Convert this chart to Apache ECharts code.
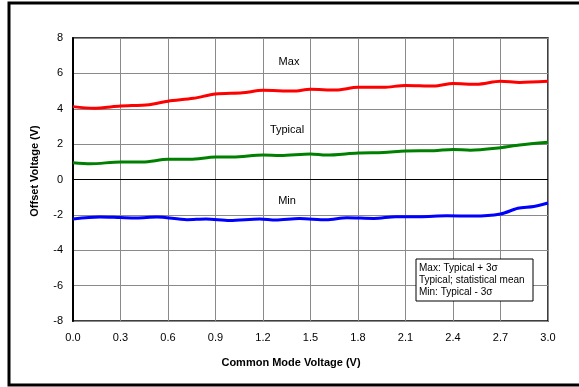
<!DOCTYPE html>
<html>
<head>
<meta charset="utf-8">
<script src="https://cdn.jsdelivr.net/npm/echarts@6/dist/echarts.min.js"></script>
<style>
  html, body { margin: 0; padding: 0; background: #fff; }
  #chart { width: 579px; height: 387px; }
</style>
</head>
<body>
<div id="chart"></div>
<script>
// common mode voltage (V) sample points
var cmvMax = [0, 0.13, 0.3, 0.48, 0.6, 0.76, 0.9, 1.07, 1.2, 1.39, 1.5, 1.66, 1.8, 1.96, 2.1, 2.28, 2.4, 2.55, 2.7, 2.82, 3.0];
var maxValues = [4.12, 4.03, 4.15, 4.23, 4.43, 4.59, 4.83, 4.9, 5.04, 5.0, 5.1, 5.06, 5.21, 5.21, 5.32, 5.28, 5.43, 5.38, 5.55, 5.49, 5.55];

var cmvTyp = [0, 0.11, 0.3, 0.44, 0.6, 0.74, 0.9, 1.01, 1.2, 1.31, 1.5, 1.6, 1.8, 1.96, 2.1, 2.28, 2.4, 2.51, 2.7, 2.82, 3.0];
var typValues = [0.95, 0.89, 0.99, 0.99, 1.14, 1.14, 1.27, 1.27, 1.38, 1.35, 1.44, 1.38, 1.5, 1.53, 1.61, 1.63, 1.7, 1.66, 1.8, 1.95, 2.1];

var cmvMin = [0, 0.17, 0.3, 0.4, 0.53, 0.72, 0.84, 0.99, 1.18, 1.28, 1.43, 1.6, 1.73, 1.9, 2.04, 2.19, 2.36, 2.53, 2.7, 2.81, 2.91, 3.0];
var minValues = [-2.23, -2.12, -2.15, -2.17, -2.12, -2.27, -2.23, -2.32, -2.23, -2.29, -2.21, -2.28, -2.16, -2.2, -2.1, -2.1, -2.05, -2.07, -1.95, -1.63, -1.53, -1.33];

function pairs(xs, ys) {
    var out = [];
    for (var i = 0; i < xs.length; i++) out.push([xs[i], ys[i]]);
    return out;
}

var myChart = echarts.init(document.getElementById('chart'));
var font = '"Liberation Sans", Arial, sans-serif';
var gridLine = { show: true, lineStyle: { color: '#8a8a8a', width: 1, type: 'solid' } };

function curve(name, color, data) {
    return {
        name: name,
        type: 'line',
        smooth: 0.3,
        symbol: 'none',
        lineStyle: { color: color, width: 3 },
        data: data,
        z: 5
    };
}

var option = {
    animation: false,
    grid: { left: 73, top: 38, right: 31, bottom: 66, show: true, borderColor: '#000', borderWidth: 1.5, backgroundColor: 'transparent' },
    xAxis: {
        type: 'value',
        min: 0, max: 3, interval: 0.3,
        axisLine: { show: false },
        axisTick: { show: false },
        axisLabel: { color: '#000', fontFamily: font, fontSize: 11, margin: 11, formatter: function (v) { return v.toFixed(1); } },
        splitLine: gridLine
    },
    yAxis: {
        type: 'value',
        min: -8, max: 8, interval: 2,
        axisLine: { show: true, onZero: false, lineStyle: { color: '#000', width: 2 } },
        axisTick: { show: false },
        axisLabel: { color: '#000', fontFamily: font, fontSize: 11, margin: 10 },
        splitLine: gridLine
    },
    series: [
        curve('Max', '#ff0000', pairs(cmvMax, maxValues)),
        curve('Typical', '#008000', pairs(cmvTyp, typValues)),
        curve('Min', '#0000ff', pairs(cmvMin, minValues)),
        {
            // zero line
            type: 'line',
            symbol: 'none',
            silent: true,
            lineStyle: { color: '#000', width: 1.2 },
            data: [[0, 0], [3, 0]],
            z: 3
        }
    ],
    graphic: [
        { type: 'rect', shape: { x: 9, y: 3, width: 620, height: 382 }, style: { fill: 'none', stroke: '#000', lineWidth: 3 }, silent: true },
        { type: 'text', x: 289, y: 62, style: { text: 'Max', font: '11px ' + font, fill: '#000', textAlign: 'center', textVerticalAlign: 'middle' } },
        { type: 'text', x: 287, y: 130, style: { text: 'Typical', font: '11px ' + font, fill: '#000', textAlign: 'center', textVerticalAlign: 'middle' } },
        { type: 'text', x: 287, y: 201, style: { text: 'Min', font: '11px ' + font, fill: '#000', textAlign: 'center', textVerticalAlign: 'middle' } },
        { type: 'rect', shape: { x: 416, y: 259, width: 117, height: 42 }, style: { fill: '#fff', stroke: '#000', lineWidth: 1 }, z: 10 },
        { type: 'text', x: 419, y: 262, z: 11, style: { text: 'Max: Typical + 3σ\nTypical; statistical mean\nMin: Typical - 3σ', font: '10px ' + font, lineHeight: 12, fill: '#000' } },
        { type: 'text', x: 291, y: 363, style: { text: 'Common Mode Voltage (V)', font: 'bold 11px ' + font, fill: '#000', textAlign: 'center', textVerticalAlign: 'middle' } },
        { type: 'text', x: 35, y: 171, rotation: Math.PI / 2, style: { text: 'Offset Voltage (V)', font: 'bold 11px ' + font, fill: '#000', textAlign: 'center', textVerticalAlign: 'middle' } }
    ]
};

myChart.setOption(option);
</script>
</body>
</html>
